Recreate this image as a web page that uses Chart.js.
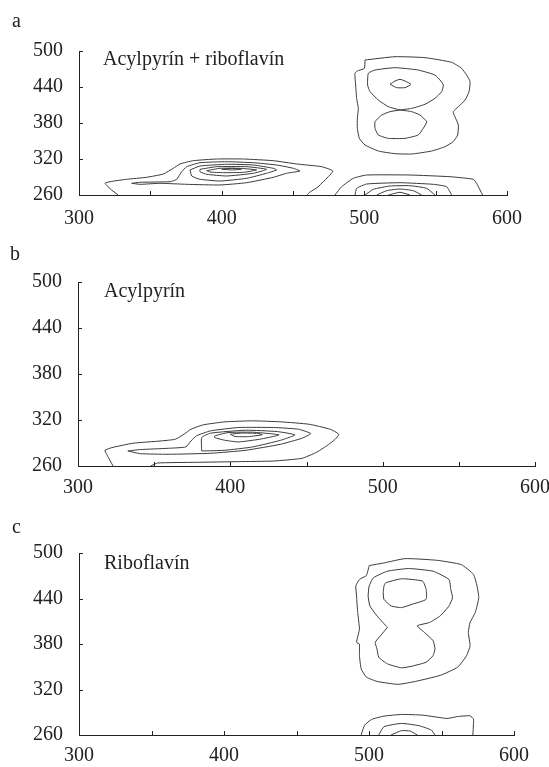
<!DOCTYPE html>
<html>
<head>
<meta charset="utf-8">
<script src="https://cdn.jsdelivr.net/npm/chart.js@4.4.1/dist/chart.umd.min.js"></script>
<style>
  body {
    margin: 0;
    width: 549px;
    height: 767px;
    background: #fff;
    position: relative;
    overflow: hidden;
    font-family: 'Liberation Serif', 'Times New Roman', serif;
    color: #222;
  }
  canvas { position: absolute; left: 0; }
  .lbl { position: absolute; font-size: 20px; line-height: 20px; white-space: nowrap; }
</style>
</head>
<body>

<canvas id="chartA" width="549" height="235" style="top:0"></canvas>
<canvas id="chartB" width="549" height="270" style="top:235px"></canvas>
<canvas id="chartC" width="549" height="262" style="top:505px"></canvas>

<div class="lbl" style="left:12px;top:10px">a</div>
<div class="lbl" style="left:103px;top:48px">Acylpyrín + riboflavín</div>
<div class="lbl" style="left:10px;top:243px">b</div>
<div class="lbl" style="left:104px;top:280px">Acylpyrín</div>
<div class="lbl" style="left:12px;top:516px">c</div>
<div class="lbl" style="left:104px;top:552px">Riboflavín</div>

<script>
// ======================
// SUMBU
// ======================

const xMin = 300, xMax = 600, xStep = 50;
const yMin = 260, yMax = 500, yStep = 60;

// ======================
// PANEL A : Acylpyrin + riboflavin  [excitation?, emission?] pasangan [x, y]
// ======================

const aAcyl1 = [[327.5,260],[322.9,268.3],[318.2,279.5],[321.7,282.2],[333.4,286.2],[347.4,289.5],[359.1,295],[366.1,304.5],[370.8,311.7],[380.1,317.2],[396.5,320],[415.2,320],[436.2,317.2],[452.6,311.7],[470.1,307.2],[478,300],[474.5,290],[471,281.7],[467.5,273.3],[461.9,265],[459.8,260]];
const aAcyl2 = [[336.9,279.5],[342.8,281.2],[363.8,282.2],[368.5,286.2],[372,298.8],[375.5,307.2],[384.8,313.8],[403.5,315.5],[422.2,313.8],[438.5,310],[450.2,304.5],[454.9,300],[445.5,296.2],[436.2,289.5],[417.5,280.5],[398.8,276.7],[375.5,277.8],[356.8,279.5],[342.8,277.8],[336.9,279.5]];
const aAcyl3 = [[377.8,301.7],[384.8,308.3],[403.5,311.2],[422.2,310],[436.2,304.5],[438.5,301.7],[431.5,296.2],[417.5,287.8],[398.8,283.3],[384.8,286.2],[379,291.7],[377.8,301.7]];
const aAcyl4 = [[384.8,302.8],[396.5,307.2],[417.5,307.2],[431.5,302.8],[422.2,296.2],[403.5,291.7],[389.5,294.5],[384.8,298.8],[384.8,302.8]];
const aAcyl5 = [[389.5,300.5],[398.8,304.5],[412.9,304.5],[424.5,301.7],[415.2,297.8],[401.2,297.2],[391.8,298.3],[389.5,300.5]];
const aAcyl6 = [[400,303],[407,304.5],[414,303],[407,301.8],[400,303]];

const aRibo1 = [[500.5,485],[521.5,490.5],[542.5,488.9],[561.2,481.1],[568.2,471.1],[571.7,460],[574.1,448.9],[573.4,432.2],[570.6,418.3],[565.9,407.2],[562.3,398.9],[563.5,390.5],[565.9,376.7],[565.4,360],[562.3,348.9],[556.5,340.5],[547.2,333.3],[533.2,328.3],[521.5,328.9],[509.8,333.3],[500.5,343.3],[496.5,354.4],[495.1,371.1],[495.1,387.8],[495.8,404.4],[494.6,421.1],[493.9,443.3],[493.4,462.8],[495.1,466.7],[500,471.1],[500.5,485]];
const aRibo2 = [[525,401.7],[516.8,407.2],[509.8,418.3],[504,432.2],[502.3,443.3],[502.8,462.8],[507.5,468.3],[521.5,472.2],[537.8,468.3],[549.5,460],[553,451.7],[555.4,443.3],[554.2,432.2],[549.5,421.1],[542.5,411.1],[533.2,404.4],[525,401.7],[518,398.9],[512.2,393.3],[507.5,382.2],[507.5,371.1],[509.8,360],[516.8,354.4],[528.5,354.4],[537.8,360],[541.3,371.1],[543.7,382.2],[539,393.3],[533.2,398.9],[525,401.7]];
const aRibo3 = [[518,444.4],[521.5,450],[525,452.8],[528.5,450],[532.7,444.4],[528.5,438.9],[522.7,438.9],[518,444.4]];
const aRiboB1 = [[479.4,260],[484.1,273.8],[492.2,287.8],[501.6,293.3],[532,293.3],[560,290.5],[576.4,286.2],[578.7,279.5],[581.1,268.3],[582.9,260]];
const aRiboB2 = [[493.5,260],[494.6,271],[501.6,278.3],[525,280.5],[548.3,277.8],[557.7,273.8],[561.2,260]];
const aRiboB3 = [[500.5,260],[506.3,269.5],[518,275],[532,275.5],[543.7,271.1],[549.5,260]];
const aRiboB4 = [[508.7,260],[515.7,267.2],[525,270],[534.3,267.2],[540.2,260]];
const aRiboB5 = [[516.8,260],[525,264.5],[532,260]];

// ======================
// PANEL B : Acylpyrin
// ======================

const bAcyl1 = [[323,260],[318.8,275.3],[317.7,280.5],[322.3,284],[336.1,289.7],[354.6,292.7],[363.9,294.9],[369.6,301.5],[374.2,308],[382.3,313.7],[396.5,317.6],[414.7,318.9],[433.1,317.6],[451.6,314.5],[465.5,308],[471.2,301.5],[468.9,294.9],[463.2,286.2],[456.2,277.5],[447,270],[428.5,266.5],[405.4,265.7],[377.7,264.8],[352.3,263.9],[347.7,260]];
const bAcyl2 = [[332.7,279.6],[340.8,281.4],[359.2,283.1],[370.8,284.9],[374.2,292.7],[377.7,299.3],[386.9,305.8],[405.4,310.2],[428.5,310.2],[444.7,308],[452.8,302.3],[447,296.2],[433.1,288.4],[410.1,280.5],[387,276.6],[359.2,275.3],[340.8,276.1],[332.7,279.6]];
const bAcyl3 = [[381.2,279.6],[381.2,297.1],[386.9,302.8],[410.1,306.7],[430.8,304.9],[442.4,300.6],[433.1,293.6],[414.7,284.9],[396.3,280.5],[381.2,279.6]];
const bAcyl4 = [[389.7,299.3],[398.5,303.6],[414.7,304.1],[432,300.6],[419.3,294.9],[405.4,291.4],[396.3,293.6],[389.7,297.1],[389.7,299.3]];
const bAcyl5 = [[400,301.5],[408,303],[418,302.5],[421,300.8],[412,298.3],[403,298.5],[400,301.5]];

// ======================
// PANEL C : Riboflavin
// ======================

const cRibo1 = [[500.1,483.4],[510.3,486.9],[524.9,492.6],[546.7,490.4],[563.6,484.7],[572.1,471.7],[574.5,456.4],[575.7,441.1],[573.3,421.5],[569.7,408.4],[568.5,395.3],[569.7,377.8],[567.3,364.7],[561.2,349.5],[549.1,338.6],[532.1,330.7],[520,326.8],[505.5,330.7],[498.2,336.4],[494.6,347.3],[493.4,364.7],[493.4,380],[491.4,382.2],[493.4,399.6],[492.2,421.5],[491.4,443.3],[490.9,456.4],[493.4,465.1],[498.2,470.3],[500.1,483.4]];
const cRibo2 = [[512.7,401.8],[505.5,417.1],[500.6,430.2],[499.4,443.3],[500.1,456.4],[503,467.3],[512.7,476],[527.3,479.5],[544.2,476],[555.2,465.1],[556.4,452],[557.6,441.1],[555.2,430.2],[549.1,417.1],[541.8,408.4],[533.3,404],[538.2,395.3],[544.2,384.4],[545.5,373.5],[544.2,364.7],[539.4,356],[529.7,350.8],[522.4,348.6],[512.7,353.8],[506.7,362.6],[505.5,373.5],[504.3,382.2],[507.9,390.9],[512.7,401.8]];
const cRibo3 = [[510.3,456.4],[511.5,460.7],[522.4,466],[537,462.9],[539.4,452],[539.4,438.9],[529.7,432.4],[522.4,428],[515.2,430.2],[510.3,438.9],[509.8,447.7],[510.3,456.4]];
const cRiboB1 = [[494.6,260],[497,273.1],[501.8,280.5],[510.3,284.9],[522.4,287.1],[537,286.2],[553.9,281.8],[561.2,284.4],[569.7,285.3],[572.1,280.9],[571.6,260]];
const cRiboB2 = [[506.7,260],[510.3,270.9],[522.4,275.3],[534.6,272.2],[543,266.5],[545.5,260]];
const cRiboB3 = [[515.2,260],[522.4,265.7],[528.5,265.2],[533.3,260]];

// ======================
// TICK KE DALAM
// ======================

const tickDalam = {
  id: 'tickDalam',
  afterDraw(chart) {
    const { ctx, scales: { x, y } } = chart;
    ctx.save();
    ctx.strokeStyle = '#222';
    ctx.lineWidth = 1;
    ctx.beginPath();
    x.ticks.forEach(t => {
      const px = Math.round(x.getPixelForValue(t.value)) + 0.5;
      ctx.moveTo(px, y.bottom);
      ctx.lineTo(px, y.bottom - 4);
    });
    y.ticks.forEach(t => {
      const py = Math.round(y.getPixelForValue(t.value)) + 0.5;
      ctx.moveTo(x.left, py);
      ctx.lineTo(x.left + 4, py);
    });
    ctx.stroke();
    ctx.restore();
  }
};

const fontTick = { family: "'Liberation Serif', 'Times New Roman', serif", size: 20 };

function buatPanel(id, kontur, area) {
  const canvas = document.getElementById(id);
  return new Chart(canvas, {
    type: 'scatter',
    data: {
      datasets: kontur.map(k => ({
        data: k.map(p => ({ x: p[0], y: p[1] })),
        showLine: true,
        pointRadius: 0,
        borderColor: '#3a3a3a',
        borderWidth: 1,
        tension: 0.15,
        fill: false
      }))
    },
    options: {
      responsive: false,
      animation: false,
      events: [],
      layout: { padding: { top: area.top, right: canvas.width - area.right, left: 0, bottom: 0 } },
      plugins: { legend: { display: false }, tooltip: { enabled: false } },
      scales: {
        x: {
          type: 'linear',
          min: xMin, max: xMax,
          grid: { display: false, drawTicks: false },
          border: { color: '#222', width: 1 },
          ticks: {
            stepSize: xStep,
            autoSkip: false,
            maxRotation: 0,
            padding: area.padX,
            color: '#222',
            font: fontTick,
            callback: v => (v % 100 === 0 ? v : '')
          },
          afterFit: s => { s.height = canvas.height - area.bottom; s.paddingLeft = 0; s.paddingRight = 0; }
        },
        y: {
          type: 'linear',
          min: yMin, max: yMax,
          grid: { display: false, drawTicks: false },
          border: { color: '#222', width: 1 },
          ticks: {
            stepSize: yStep,
            autoSkip: false,
            padding: 16,
            color: '#222',
            font: fontTick
          },
          afterFit: s => { s.width = area.left; s.paddingTop = 0; s.paddingBottom = 0; }
        }
      }
    },
    plugins: [tickDalam]
  });
}

buatPanel('chartA',
  [aAcyl1, aAcyl2, aAcyl3, aAcyl4, aAcyl5, aAcyl6, aRibo1, aRibo2, aRibo3, aRiboB1, aRiboB2, aRiboB3, aRiboB4, aRiboB5],
  { left: 79, right: 507, top: 51, bottom: 195, padX: 12 });

buatPanel('chartB',
  [bAcyl1, bAcyl2, bAcyl3, bAcyl4, bAcyl5],
  { left: 78, right: 535, top: 47, bottom: 231, padX: 10 });

buatPanel('chartC',
  [cRibo1, cRibo2, cRibo3, cRiboB1, cRiboB2, cRiboB3],
  { left: 79, right: 514, top: 48, bottom: 230, padX: 9 });
</script>
</body>
</html>
